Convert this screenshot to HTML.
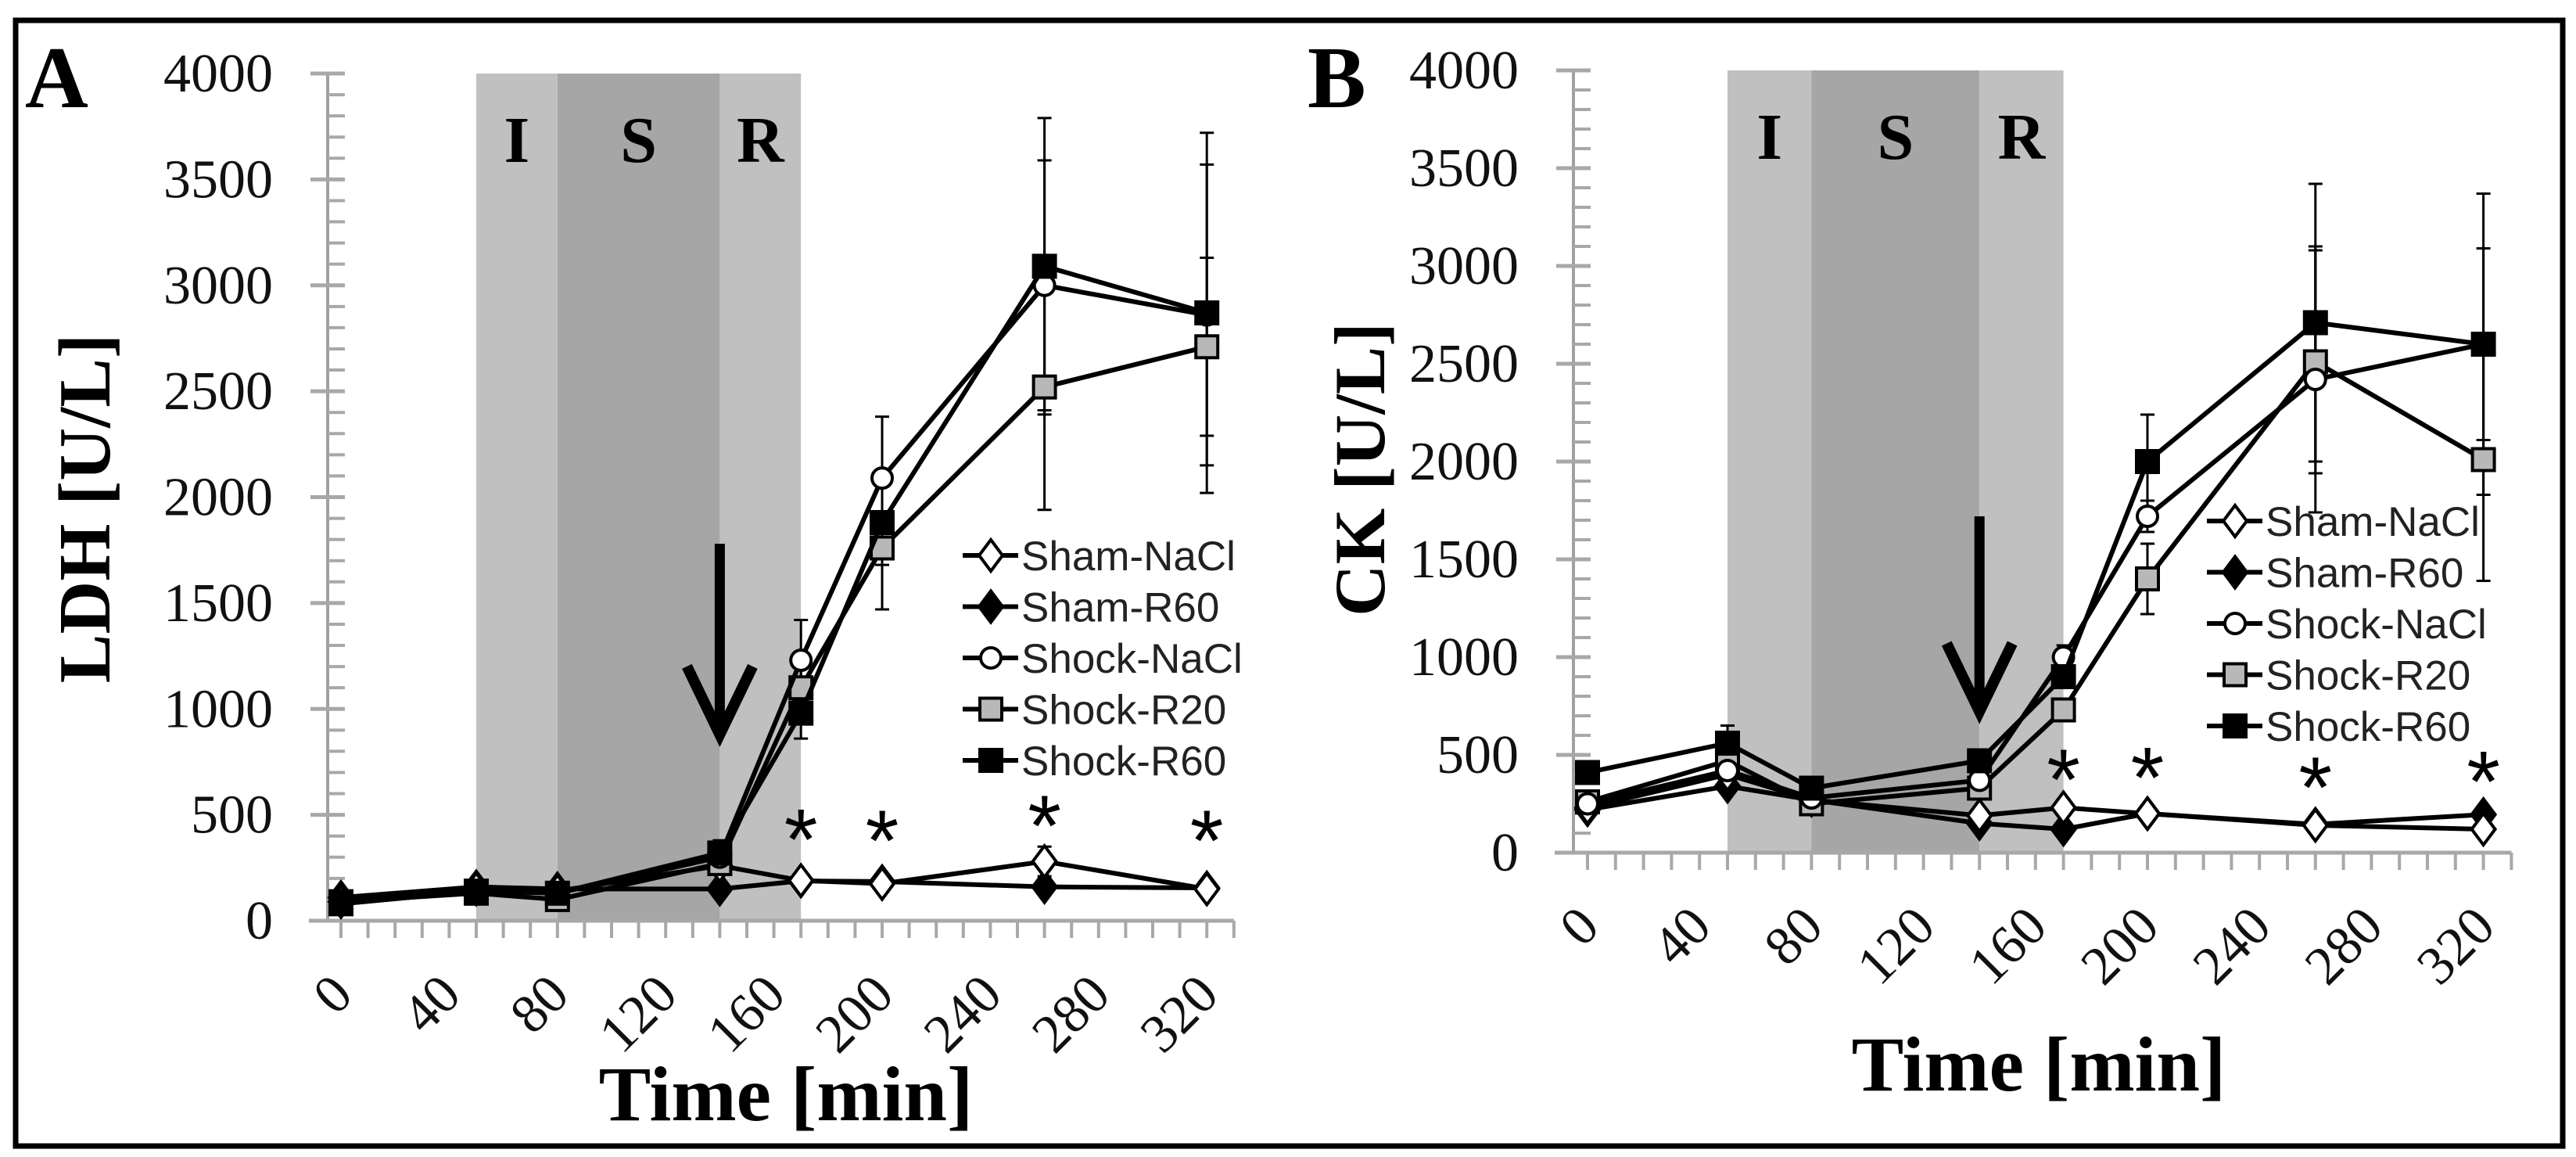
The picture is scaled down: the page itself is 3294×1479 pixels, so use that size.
<!DOCTYPE html>
<html><head><meta charset="utf-8"><style>
html,body{margin:0;padding:0;background:#fff;}
svg{display:block;}
</style></head><body>
<svg id="fig" xmlns="http://www.w3.org/2000/svg" width="3294" height="1479" viewBox="0 0 3294 1479">
<rect x="20" y="26" width="3257" height="1439" fill="#fff" stroke="#000" stroke-width="7"/>
</svg>
<script>
// ---- data ----
const times = [0, 50, 80, 140, 170, 200, 260, 320];
const seriesNames = ["Sham-NaCl", "Sham-R60", "Shock-NaCl", "Shock-R20", "Shock-R60"];
const xTickLabels = ["0","40","80","120","160","200","240","280","320"];
const yTickLabels = ["0","500","1000","1500","2000","2500","3000","3500","4000"];
const phaseLabels = ["I","S","R"];
const phaseBounds = [50, 80, 140, 170];

// Panel A: LDH
const ldhShamNaCl  = [90, 150, 140, 260, 190, 175, 280, 150];
const ldhShamR60   = [110, 160, 150, 150, 188, 185, 160, 155];
const ldhShockNaCl = [80, 140, 130, 300, 1230, 2090, 3000, 2860];
const ldhShockR20  = [90, 130, 100, 270, 1100, 1760, 2520, 2710];
const ldhShockR60  = [80, 140, 130, 320, 980, 1880, 3090, 2870];
const ldhErrShockNaCl = [0, 0, 0, 60, 190, 290, 590, 710];
const ldhErrShockR20  = [0, 0, 0, 50, 100, 290, 580, 420];
const ldhErrShockR60  = [0, 0, 0, 60, 120, 200, 700, 850];
const ldhErrShamNaCl  = [0, 0, 0, 0, 0, 0, 70, 0];
const ldhStarTimes = [170, 200, 260, 320];
const ldhStarValues = [435, 430, 500, 430];
const ldhArrow = [140, 1780, 850];

// Panel B: CK
const ckShamNaCl  = [230, 400, 270, 190, 230, 200, 140, 120];
const ckShamR60   = [220, 340, 270, 150, 120, 200, 145, 195];
const ckShockNaCl = [250, 420, 280, 370, 1000, 1720, 2420, 2600];
const ckShockR20  = [260, 470, 250, 330, 730, 1400, 2510, 2010];
const ckShockR60  = [410, 560, 330, 470, 900, 2000, 2710, 2600];
const ckErrShockNaCl = [0, 0, 0, 0, 60, 80, 680, 490];
const ckErrShockR20  = [0, 0, 0, 0, 0, 180, 570, 620];
const ckErrShockR60  = [50, 90, 0, 0, 0, 240, 710, 770];
const ckErrShamNaCl  = [0, 0, 0, 0, 0, 0, 0, 0];
const ckStarTimes = [170, 200, 260, 320];
const ckStarValues = [430, 440, 390, 420];
const ckArrow = [140, 1720, 690];

const NS = "http://www.w3.org/2000/svg";
const svg = document.getElementById("fig");
function el(tag, attrs, parent){
  const e = document.createElementNS(NS, tag);
  for (const k in attrs) e.setAttribute(k, attrs[k]);
  (parent||svg).appendChild(e);
  return e;
}

function drawPanel(cfg){
  const g = el("g", {});
  
  
  const X = t => cfg.x0 + cfg.xs * t;
  const Y = v => cfg.y0 - cfg.ys * v;
  // shading
  const shades = ["#c0c0c0","#a6a6a6","#c0c0c0"];
  for (let i=0;i<3;i++){
    const r = el("rect", {x:X(phaseBounds[i]), y:Y(4000), width:X(phaseBounds[i+1])-X(phaseBounds[i]), height:Y(0)-Y(4000), fill:shades[i]}, g);
    
    
    const t = el("text", {x:(X(phaseBounds[i])+X(phaseBounds[i+1]))/2, y:Y(4000)+113, "text-anchor":"middle", "font-family":"Liberation Serif, serif", "font-weight":"bold", "font-size":"84"}, g);
    t.textContent = phaseLabels[i];
    
    
  }
  // y axis
  const ya = el("g", {}, g);
  
  
  el("line", {x1:cfg.ax, x2:cfg.ax, y1:Y(4000), y2:Y(0), stroke:"#a0a0a0", "stroke-width":"4"}, ya);
  for (let v=0; v<=4000; v+=100){
    const major = v%500===0;
    el("line", {x1: major?cfg.ax-22:cfg.ax, x2:cfg.ax+22, y1:Y(v), y2:Y(v), stroke:"#a8a8a8", "stroke-width": major?"5":"4"}, ya);
  }
  yTickLabels.forEach((lab,i)=>{
    const t = el("text", {x:cfg.ax-70, y:Y(+lab)+23, "text-anchor":"end", "font-family":"Liberation Serif, serif", "font-size":"70", fill:"#111"}, ya);
    t.textContent = lab;
    
    
  });
  // x axis
  const xa = el("g", {}, g);
  
  
  el("line", {x1:cfg.ax-24, x2:X(330), y1:Y(0), y2:Y(0), stroke:"#a8a8a8", "stroke-width":"5"}, xa);
  for (let t=0; t<=330; t+=10){
    el("line", {x1:X(t), x2:X(t), y1:Y(0), y2:Y(0)+22, stroke:"#a8a8a8", "stroke-width":"4"}, xa);
  }
  xTickLabels.forEach(lab=>{
    const ex = X(+lab)+18, ey = Y(0)+98;
    const t = el("text", {x:ex, y:ey, "text-anchor":"end", transform:`rotate(-45 ${ex} ${ey})`, "font-family":"Liberation Serif, serif", "font-size":"70", fill:"#111"}, xa);
    t.textContent = lab;
    
    
  });
  // axis titles
  const yt = el("text", {x:cfg.ylx, y:cfg.yly, "text-anchor":"middle", transform:`rotate(-90 ${cfg.ylx} ${cfg.yly})`, "font-family":"Liberation Serif, serif", "font-weight":"bold", "font-size":cfg.ylsize}, g);
  yt.textContent = cfg.ytitle;
  
  
  const xt = el("text", {x:cfg.xlx, y:cfg.xly, "text-anchor":"middle", "font-family":"Liberation Serif, serif", "font-weight":"bold", "font-size":"100"}, g);
  xt.textContent = "Time [min]";
  
  
  const pl = el("text", {x:cfg.letterX, y:137, "font-family":"Liberation Serif, serif", "font-weight":"bold", "font-size":"112"}, g);
  pl.textContent = cfg.letter;
  
  

  // error bars
  cfg.errs.forEach((err, si)=>{
    const vals = cfg.series[cfg.errIdx[si]];
    err.forEach((e,i)=>{
      if (!e) return;
      const eb = el("g", {}, g);
      
      
      const x = X(times[i]);
      el("line", {x1:x, x2:x, y1:Y(vals[i]+e), y2:Y(Math.max(0,vals[i]-e)), stroke:"#000", "stroke-width":"3"}, eb);
      el("line", {x1:x-9, x2:x+9, y1:Y(vals[i]+e), y2:Y(vals[i]+e), stroke:"#000", "stroke-width":"3"}, eb);
      el("line", {x1:x-9, x2:x+9, y1:Y(Math.max(0,vals[i]-e)), y2:Y(Math.max(0,vals[i]-e)), stroke:"#000", "stroke-width":"3"}, eb);
    });
  });
  // lines & markers
  const order = [1,0,3,2,4];
  order.forEach(si=>{
    const vals = cfg.series[si];
    const sg = el("g", {}, g);
    
    
    const pts = vals.map((v,i)=>X(times[i])+","+Y(v)).join(" ");
    el("polyline", {points:pts, fill:"none", stroke:"#000", "stroke-width":"6", "stroke-linejoin":"round"}, sg);
    vals.forEach((v,i)=>{
      const m = marker(si, X(times[i]), Y(v), sg);
      
      
    });
  });
  // arrow
  const ag = el("g", {}, g);
  
  
  const axx = X(cfg.arrow[0]);
  const tip = Y(cfg.arrow[2]);
  el("line", {x1:axx, x2:axx, y1:Y(cfg.arrow[1]), y2:tip-20, stroke:"#000", "stroke-width":"13"}, ag);
  el("polyline", {points:`${axx-42},${tip-95} ${axx},${tip-8} ${axx+42},${tip-95}`, fill:"none", stroke:"#000", "stroke-width":"14", "stroke-linejoin":"miter"}, ag);
  // stars
  cfg.starT.forEach((t,i)=>{
    const s = el("text", {x:X(t), y:Y(cfg.starV[i])+52, "text-anchor":"middle", "font-family":"Liberation Sans, sans-serif", "font-size":"110"}, g);
    s.textContent = "*";
    
    
  });
  // legend
  const lg = el("g", {}, g);
  
  
  seriesNames.forEach((n,si)=>{
    const y = cfg.legY + si*65.5;
    const le = el("g", {}, lg);
    
    
    el("line", {x1:cfg.legX, x2:cfg.legX+71, y1:y, y2:y, stroke:"#000", "stroke-width":"6"}, le);
    marker(si, cfg.legX+36, y, le);
    const t = el("text", {x:cfg.legX+75, y:y+19, "font-family":"Liberation Sans, sans-serif", "font-size":"53", fill:"#222"}, le);
    t.textContent = n;
  });
}

function marker(si, x, y, parent){
  if (si===0 || si===1){
    return el("polygon", {points:`${x},${y-20} ${x+15},${y} ${x},${y+20} ${x-15},${y}`, fill: si===0?"#fff":"#000", stroke:"#000", "stroke-width":"4"}, parent);
  } else if (si===2){
    return el("circle", {cx:x, cy:y, r:13, fill:"#fff", stroke:"#000", "stroke-width":"4"}, parent);
  } else {
    return el("rect", {x:x-14, y:y-14, width:28, height:28, fill: si===3?"#b8b8b8":"#000", stroke:"#000", "stroke-width":"4"}, parent);
  }
}

drawPanel({key:"ldh", letter:"A", letterX:32, x0:436, xs:3.46, y0:1177, ys:0.27075, ax:419,
  ytitle:"LDH [U/L]", ylx:140, yly:650, ylsize:94, xlx:1005, xly:1432,
  series:[ldhShamNaCl, ldhShamR60, ldhShockNaCl, ldhShockR20, ldhShockR60],
  errs:[ldhErrShamNaCl, ldhErrShockNaCl, ldhErrShockR20, ldhErrShockR60], errIdx:[0,2,3,4],
  arrow:ldhArrow, starT:ldhStarTimes, starV:ldhStarValues, legX:1231, legY:710});

drawPanel({key:"ck", letter:"B", letterX:1672, x0:2030, xs:3.58, y0:1090, ys:0.25, ax:2012,
  ytitle:"CK [U/L]", ylx:1770, yly:600, ylsize:92, xlx:2607, xly:1394,
  series:[ckShamNaCl, ckShamR60, ckShockNaCl, ckShockR20, ckShockR60],
  errs:[ckErrShamNaCl, ckErrShockNaCl, ckErrShockR20, ckErrShockR60], errIdx:[0,2,3,4],
  arrow:ckArrow, starT:ckStarTimes, starV:ckStarValues, legX:2822, legY:666});
</script>
</body></html>
